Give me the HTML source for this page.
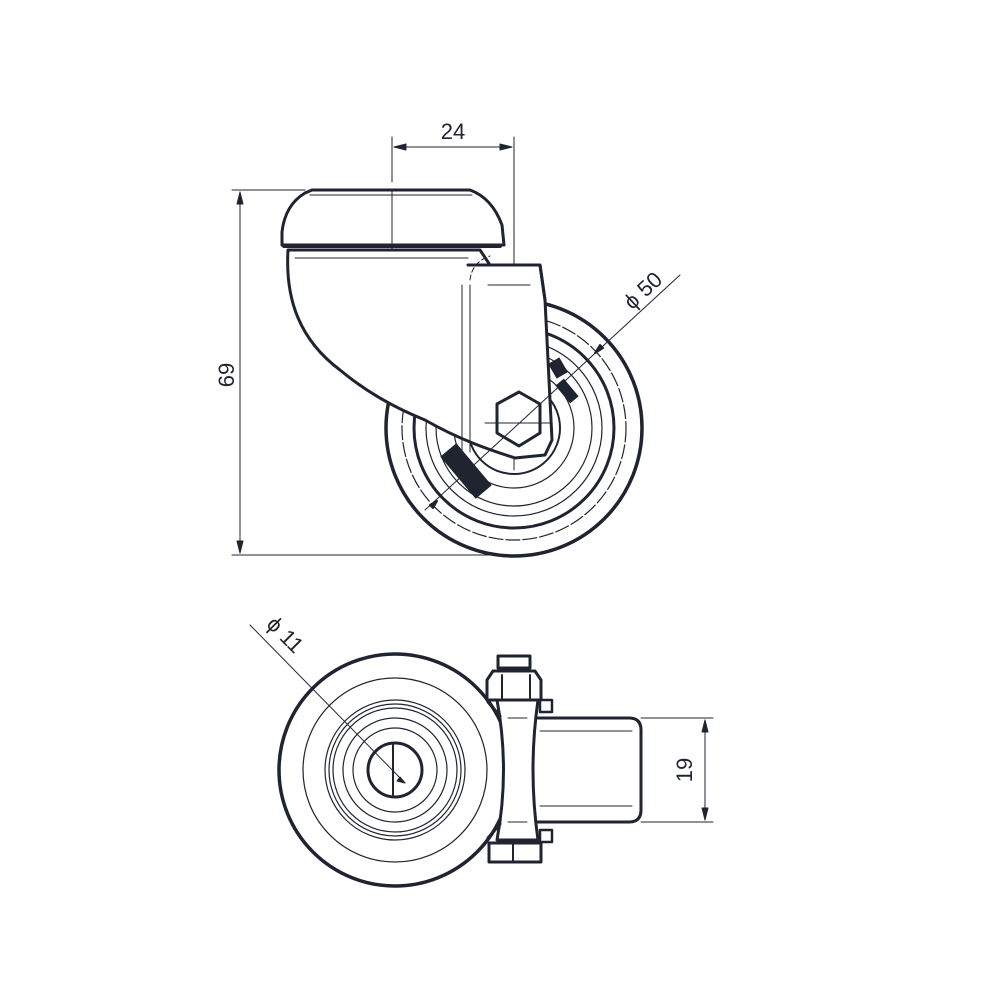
<!DOCTYPE html>
<html><head><meta charset="utf-8"><style>html,body{margin:0;padding:0;background:#fff}svg{display:block}</style></head>
<body>
<svg width="1000" height="1001" viewBox="0 0 1000 1001" xmlns="http://www.w3.org/2000/svg" font-family="Liberation Sans, sans-serif">
<g fill="none" stroke="#1f2430" stroke-linecap="round" stroke-linejoin="round">
<line x1="232" y1="190" x2="305" y2="190" stroke-width="1"/>
<line x1="232" y1="555" x2="490" y2="555" stroke-width="1"/>
<line x1="240" y1="192" x2="240" y2="553" stroke-width="1"/>
<path d="M240 192 l-3 12 h6z M240 553 l-3 -12 h6z" fill="#1f2430"/>
<line x1="392" y1="137" x2="392" y2="182" stroke-width="1"/>
<line x1="392" y1="195" x2="392" y2="275" stroke-width="1" stroke-dasharray="40 6 3 6"/>
<line x1="514" y1="137" x2="514" y2="470" stroke-width="1"/>
<line x1="394" y1="147" x2="512" y2="147" stroke-width="1"/>
<path d="M394 147 l12 -3 v6z M512 147 l-12 -3 v6z" fill="#1f2430"/>
<circle cx="514" cy="428" r="128" stroke-width="3.5"/>
<circle cx="514" cy="428" r="112" stroke-width="1.2" stroke-dasharray="14 3"/>
<circle cx="514" cy="428" r="100" stroke-width="3"/>
<circle cx="514" cy="428" r="88" stroke-width="1.2"/>
<circle cx="514" cy="428" r="78" stroke-width="1.2"/>
<circle cx="514" cy="428" r="60" stroke-width="1.2"/>
<circle cx="514" cy="428" r="46" stroke-width="2"/>
<path d="M288 250 C285 300 300 340 340 370 C370 395 400 410 425 420 C460 440 490 450 515 458 L545 455 L552 440 L545 300 L540 265 L490 265 L480 250 Z" fill="#fff" stroke-width="3"/>
<path d="M462 285 L462 452" stroke-width="1"/>
<path d="M470 285 L470 452" stroke-width="1"/>
<path d="M468 265 L540 265 L545 300" stroke-width="3"/>
<path d="M295 258 L468 258" stroke-width="1"/>
<path d="M488 285 L530 285" stroke-width="1"/>
<path d="M470 280 Q472 262 490 256" stroke-width="1" stroke-dasharray="5 3"/>
<path d="M282 245 L282 232 Q285 205 305 193 L312 190 L470 190 Q492 198 502 225 L504 245 Z" fill="#fff" stroke-width="3"/>
<line x1="284" y1="246" x2="500" y2="246" stroke-width="4"/>
<line x1="310" y1="195" x2="472" y2="195" stroke-width="1"/>
<line x1="392" y1="190" x2="392" y2="250" stroke-width="1"/>
<polygon points="519,392 540,404 540,433 519,446 497,433 497,404" fill="#fff" stroke-width="3"/>
<line x1="485" y1="423" x2="550" y2="423" stroke-width="1"/>
<rect x="552" y="360" width="12" height="16" fill="#1f2430" transform="rotate(-30 558 368)"/>
<rect x="562" y="380" width="10" height="22" fill="#1f2430" transform="rotate(-40 567 391)"/>
<rect x="456" y="444" width="20" height="54" fill="#1f2430" transform="rotate(-40 466 471)"/>
<line x1="425" y1="510" x2="680" y2="275" stroke-width="1"/>
<path d="M600 345 l-5 8 l8 -5z M430 505 l7 -4 l-4 7z" fill="#1f2430" stroke-width="2"/>
<circle cx="395" cy="770" r="116" stroke-width="3.5"/>
<circle cx="395" cy="770" r="92" stroke-width="1.2"/>
<circle cx="395" cy="770" r="70" stroke-width="1.2"/>
<circle cx="395" cy="770" r="66" stroke-width="1.2"/>
<circle cx="395" cy="770" r="62" stroke-width="1.2"/>
<circle cx="395" cy="770" r="52" stroke-width="1.2"/>
<circle cx="395" cy="770" r="42" stroke-width="1.2"/>
<circle cx="395" cy="770" r="27" stroke-width="3"/>
<line x1="393" y1="745" x2="393" y2="795" stroke-width="2"/>
<line x1="250" y1="625" x2="405" y2="783" stroke-width="1"/>
<path d="M405 783 l-8 -2 l3 -4z" fill="#1f2430"/>
<path d="M497 700 Q510 770 497 840 L538 840 Q528 770 538 700 Z" fill="#fff" stroke-width="3"/>
<line x1="508" y1="718" x2="527" y2="718" stroke-width="1"/>
<line x1="508" y1="822" x2="527" y2="822" stroke-width="1"/>
<path d="M538 718 L629 718 Q641 718 641 730 L641 810 Q641 822 629 822 L538 822" fill="#fff" stroke-width="3"/>
<line x1="540" y1="731" x2="632" y2="731" stroke-width="1"/>
<line x1="540" y1="806" x2="632" y2="806" stroke-width="1"/>
<path d="M498 668 L498 656 L530 656 L530 668 Z" fill="#fff" stroke-width="3"/>
<path d="M487 700 L487 680 L493 671 L535 671 L541 680 L541 700 Z" fill="#fff" stroke-width="3"/>
<line x1="502" y1="675" x2="502" y2="698" stroke-width="2"/>
<line x1="530" y1="675" x2="530" y2="698" stroke-width="2"/>
<rect x="540" y="700" width="12" height="12" fill="#fff" stroke-width="2.5"/>
<rect x="540" y="830" width="12" height="12" fill="#fff" stroke-width="2.5"/>
<rect x="489" y="843" width="52" height="19" fill="#fff" stroke-width="3"/>
<line x1="513" y1="843" x2="513" y2="862" stroke-width="2"/>
<path d="M488 702 L500 716" stroke-width="3"/>
<path d="M488 838 L500 824" stroke-width="3"/>
<line x1="641" y1="718" x2="713" y2="718" stroke-width="1"/>
<line x1="641" y1="822" x2="713" y2="822" stroke-width="1"/>
<line x1="705" y1="720" x2="705" y2="820" stroke-width="1"/>
<path d="M705 720 l-3 12 h6z M705 820 l-3 -12 h6z" fill="#1f2430"/>
</g>
<g fill="#1f2430" font-size="22">
<text x="453" y="139" text-anchor="middle">24</text>
<text transform="translate(234 375) rotate(-90)" text-anchor="middle">69</text>
<text transform="translate(648 296) rotate(-43)" text-anchor="middle">ϕ 50</text>
<text transform="translate(692 770) rotate(-90)" text-anchor="middle">19</text>
<text transform="translate(280 640) rotate(45)" text-anchor="middle">ϕ 11</text>
</g>
</svg>
</body></html>
